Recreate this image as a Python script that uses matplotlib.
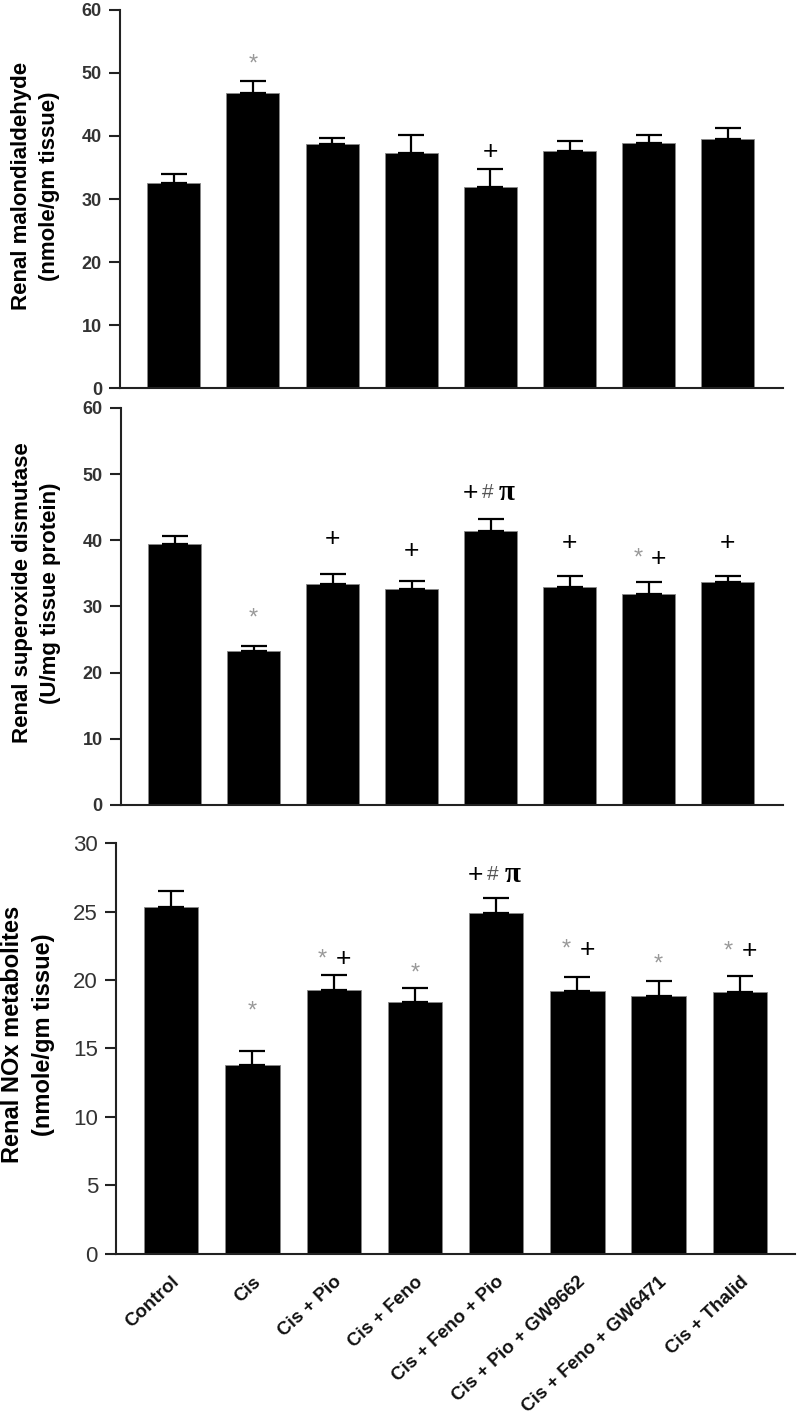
import matplotlib
matplotlib.use("Agg")
import matplotlib.pyplot as plt
import numpy as np

plt.rcParams['font.family'] = ['Liberation Sans', 'DejaVu Sans']

groups = ['Control', 'Cis', 'Cis + Pio', 'Cis + Feno', 'Cis + Feno + Pio',
          'Cis + Pio + GW9662', 'Cis + Feno + GW6471', 'Cis + Thalid']

mda = [32.5, 46.8, 38.7, 37.3, 31.9, 37.6, 38.9, 39.5]
mda_err = [1.5, 1.9, 1.0, 2.9, 2.9, 1.6, 1.3, 1.8]

sod = [39.4, 23.3, 33.4, 32.6, 41.4, 32.9, 31.9, 33.7]
sod_err = [1.3, 0.7, 1.5, 1.3, 1.8, 1.7, 1.8, 0.9]

nox = [25.3, 13.8, 19.3, 18.4, 24.9, 19.2, 18.8, 19.1]
nox_err = [1.2, 1.0, 1.1, 1.0, 1.1, 1.0, 1.1, 1.2]

# significance marks: (group index, mark, y value)
mda_marks = [(1, '*', 51.3), (4, '+', 37.5)]
sod_marks = [(1, '*', 28.2), (2, '+', 40.2), (3, '+', 38.4), (4, '+#π', 47.2),
             (5, '+', 39.6), (6, '*+', 37.2), (7, '+', 39.6)]
nox_marks = [(1, '*', 17.7), (2, '*+', 21.5), (3, '*', 20.5), (4, '+#π', 27.7),
             (5, '*+', 22.2), (6, '*', 21.1), (7, '*+', 22.1)]

fig = plt.figure(figsize=(8, 14.24), dpi=100)
ax1 = fig.add_axes([0.150, 0.7275, 0.829, 0.2655])
ax2 = fig.add_axes([0.151, 0.4347, 0.828, 0.2788])
ax3 = fig.add_axes([0.145, 0.1194, 0.849, 0.2886])

x = np.arange(len(groups))

star = dict(color='#999999', fontsize=17, ha='center', va='center')
plus = dict(color='black', fontsize=19, ha='center', va='center')


def draw_marks(ax, marks):
    for i, m, y in marks:
        if m == '*':
            ax.text(i, y, '*', **star)
        elif m == '+':
            ax.text(i, y, '+', **plus)
        elif m == '*+':
            ax.text(i - 0.14, y + 0.02 * ax.get_ylim()[1] * 0, '*', **star)
            ax.text(i + 0.12, y, '+', **plus)
        elif m == '+#π':
            ax.text(i - 0.26, y, '+', **plus)
            ax.text(i - 0.04, y, '#', color='#555555', fontsize=15,
                    ha='center', va='center')
            ax.text(i + 0.2, y, 'π', color='black', fontsize=21, fontweight='bold',
                    ha='center', va='center', family='Liberation Serif')


def style(ax, ymax, step, ylabel, fs_tick, fs_lab, tickbold):
    ax.set_ylim(0, ymax)
    ax.set_xlim(-0.68, 7.7)
    ax.set_yticks(np.arange(0, ymax + 0.1, step))
    ax.spines['top'].set_visible(False)
    ax.spines['right'].set_visible(False)
    ax.spines['left'].set_linewidth(1.5)
    ax.spines['bottom'].set_linewidth(1.5)
    ax.spines['left'].set_color('#222222')
    ax.spines['bottom'].set_color('#222222')
    ax.tick_params(axis='y', direction='out', length=8, width=1.5, pad=5,
                   labelsize=fs_tick, labelcolor='#333333', color='#222222')
    for t in ax.get_yticklabels():
        if tickbold:
            t.set_fontweight('bold')
    ax.tick_params(axis='x', length=0)
    ax.set_ylabel(ylabel, fontsize=fs_lab, fontweight='bold', linespacing=1.45)
    ax.yaxis.set_label_coords(-0.09, 0.534)


for ax, vals, errs, marks in [(ax1, mda, mda_err, mda_marks),
                              (ax2, sod, sod_err, sod_marks),
                              (ax3, nox, nox_err, nox_marks)]:
    ax.bar(x, vals, width=0.67, color='black', edgecolor='#888888', linewidth=0.6)
    ax.errorbar(x, vals, yerr=[np.zeros(len(vals)), errs], fmt='none',
                ecolor='black', elinewidth=1.6, capsize=9.5, capthick=1.6)
    draw_marks(ax, marks)

style(ax1, 60, 10, 'Renal malondialdehyde\n(nmole/gm tissue)', 13, 16, True)
style(ax2, 60, 10, 'Renal superoxide dismutase\n(U/mg tissue protein)', 13, 16, True)
style(ax3, 30, 5, 'Renal NOx metabolites\n(nmole/gm tissue)', 16, 17, False)
ax3.set_xlim(-0.68, 7.68)

ax1.set_xticks([])
ax2.set_xticks([])
ax3.set_xticks(x)
ax3.set_xticklabels(groups, rotation=43, ha='right', rotation_mode='anchor',
                    fontsize=13.5, fontweight='bold', color='#111111')
ax3.tick_params(axis='x', pad=14)

fig.savefig('out.png', dpi=100)
